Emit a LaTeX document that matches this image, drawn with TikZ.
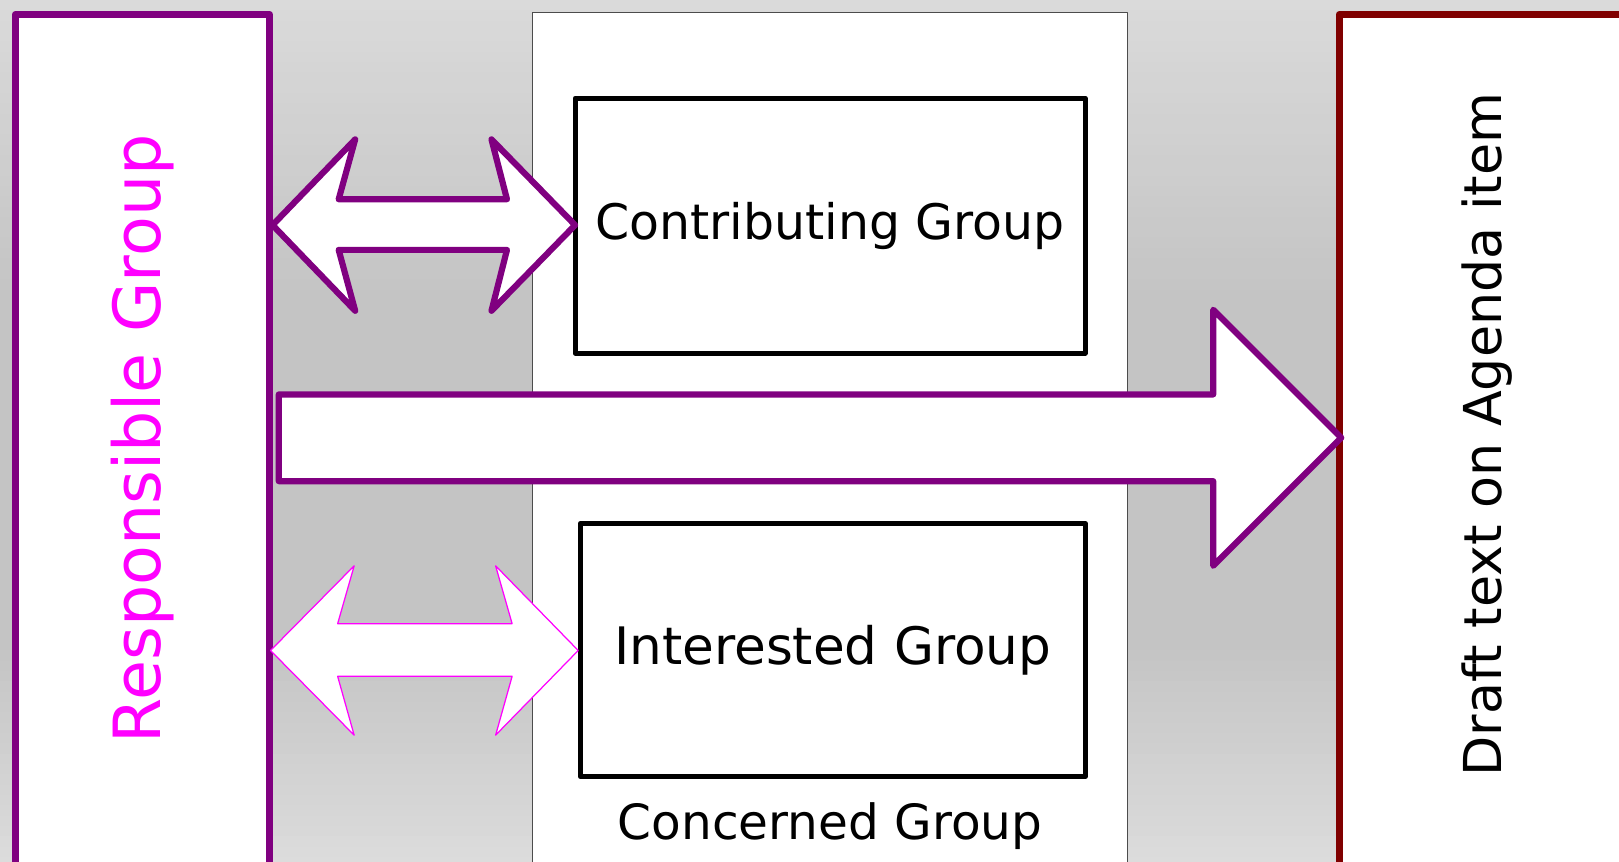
\documentclass[tikz,border=0pt]{standalone}
\usepackage{fontspec}
\setmainfont{DejaVu Sans}
\definecolor{grp}{HTML}{800080}
\definecolor{drk}{HTML}{800000}
\definecolor{mag}{HTML}{FF00FF}
\definecolor{bgtop}{HTML}{DADADA}
\definecolor{bgmid}{HTML}{C4C4C4}
\definecolor{bgbot}{HTML}{DCDCDC}
\begin{document}
\begin{tikzpicture}[x=0.5pt,y=-0.5pt,line join=round,
  thickbox/.style={draw=black,line width=2.5pt,fill=white},
  bigtext/.style={inner sep=0pt},
  purplearrow/.style={draw=grp,line width=3pt,fill=white},
  pinkarrow/.style={draw=mag,line width=0.6pt,fill=white}]
\useasboundingbox (0,0) rectangle (1568,834);
\begin{scope}
\clip (0,0) rectangle (1568,834);
% background gradient drawn as thin bands
\fill[bgmid] (0,280) rectangle (1568,620);
\foreach \yy in {0,10,...,270} {
  \pgfmathsetmacro{\qq}{\yy/2.8}
  \fill[bgmid!\qq!bgtop] (0,\yy) rectangle (1568,\yy+10.5);
}
\foreach \yy in {620,630,...,830} {
  \pgfmathsetmacro{\qq}{min(100,(\yy-620)/2.1)}
  \fill[bgbot!\qq!bgmid] (0,\yy) rectangle (1568,\yy+10.5);
}
% Responsible group
\draw[draw=grp,line width=3.5pt,fill=white] (15,900) -- (15,14) -- (261,14) -- (261,900);
\node[bigtext,rotate=90,text=mag,font=\fontsize{31.5}{36}\selectfont] (resp) at (138,425) {Responsible Group};
% Concerned group
\draw[draw=black!70,line width=0.5pt,fill=white] (516,900) -- (516,12) -- (1092,12) -- (1092,900);
\node[bigtext,font=\fontsize{23.5}{28}\selectfont] (conc) at (804,800) {Concerned Group};
% Contributing / Interested
\node[thickbox,minimum width=247pt,minimum height=123.5pt] (contrib) at (804,218.5) {};
\node[bigtext,font=\fontsize{23.7}{28}\selectfont] at (contrib.center) {Contributing Group};
\node[thickbox,minimum width=244.5pt,minimum height=122.5pt] (inter) at (806.5,629.5) {};
\node[bigtext,font=\fontsize{25}{30}\selectfont] at (inter.center) {Interested Group};
% Draft text
\draw[draw=drk,line width=3.5pt,fill=white] (1297,900) -- (1297,14) -- (1700,14) -- (1700,900);
\node[bigtext,rotate=90,font=\fontsize{25.3}{30}\selectfont] (draft) at (1440,421) {Draft text on Agenda item};
% big arrow
\draw[purplearrow] (270,382) -- (1175,382) -- (1175,300) -- (1299,424) -- (1175,548) -- (1175,466) -- (270,466) -- cycle;
% top double arrow
\draw[purplearrow] (264,218) -- (344,135) -- (328,193) -- (491,193) -- (476,135) -- (557,218) -- (476,301) -- (491,242) -- (328,242) -- (344,301) -- cycle;
% bottom double arrow
\draw[pinkarrow] (262,630) -- (343,548) -- (327,604) -- (496,604) -- (480,548) -- (560,630) -- (480,712) -- (496,655) -- (327,655) -- (343,712) -- cycle;
\end{scope}
\end{tikzpicture}
\end{document}
